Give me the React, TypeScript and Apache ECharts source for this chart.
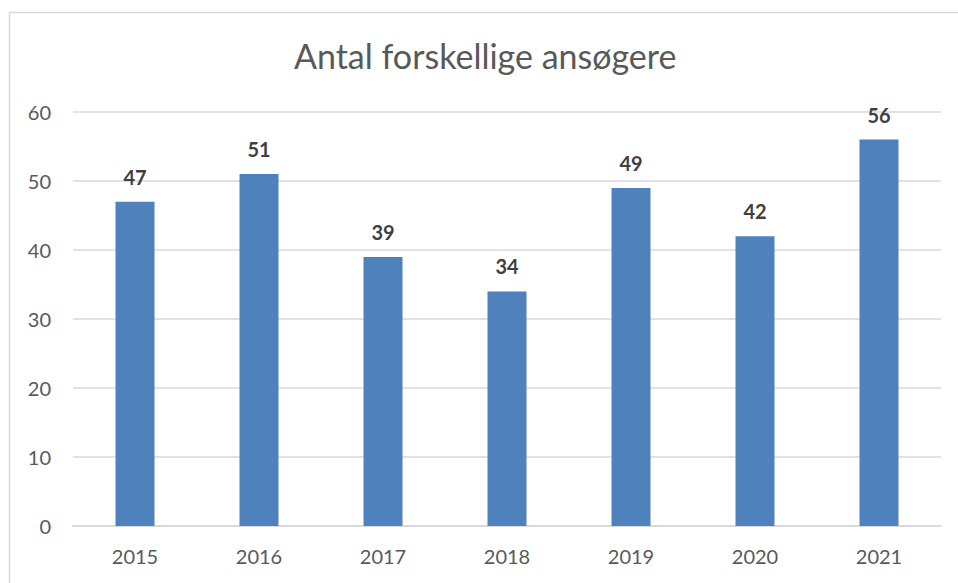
import React, { useEffect, useRef } from "react";
import * as echarts from "echarts";

const titleText = "Antal forskellige ansøgere";
const categories = ["2015", "2016", "2017", "2018", "2019", "2020", "2021"];
const values = [47, 51, 39, 34, 49, 42, 56];

export default function App() {
  const ref = useRef<HTMLDivElement>(null);
  useEffect(() => {
    if (!ref.current) return;
    const chart = echarts.init(ref.current, null, { renderer: "svg" });
    const font = "Lato, 'Open Sans', sans-serif";
    chart.setOption({
      animation: false,
      backgroundColor: "#ffffff",
      textStyle: { fontFamily: font },
      title: {
        text: titleText,
        left: 289,
        top: 33,
        textStyle: { fontFamily: font, fontSize: 34, fontWeight: "normal", color: "#595959" },
      },
      graphic: [
        {
          type: "rect",
          shape: { x: 9.5, y: 12.5, width: 1000, height: 700 },
          style: { fill: "none", stroke: "#d9d9d9", lineWidth: 1.5 },
          silent: true,
        },
      ],
      grid: { left: 73, right: 17, top: 112, bottom: 57, containLabel: false },
      xAxis: {
        type: "category",
        data: categories,
        axisLine: { show: true, lineStyle: { color: "#d9d9d9", width: 2 } },
        axisTick: { show: false },
        axisLabel: { fontFamily: font, fontSize: 20, color: "#595959", margin: 20 },
      },
      yAxis: {
        type: "value",
        min: 0,
        max: 60,
        interval: 10,
        axisLine: { show: false },
        axisTick: { show: false },
        splitLine: { lineStyle: { color: "#d9d9d9", width: 1.5 } },
        axisLabel: { fontFamily: font, fontSize: 20, color: "#595959", margin: 22 },
      },
      series: [
        {
          type: "bar",
          data: values,
          barWidth: 39,
          itemStyle: { color: "#4f81bd" },
          label: {
            show: true,
            position: "top",
            distance: 15,
            fontFamily: font,
            fontSize: 20,
            fontWeight: "bold",
            color: "#404040",
          },
        },
      ],
    });
    return () => chart.dispose();
  }, []);
  return (
    <div
      ref={ref}
      style={{ position: "fixed", left: 0, top: 0, width: 958, height: 583 }}
    />
  );
}
